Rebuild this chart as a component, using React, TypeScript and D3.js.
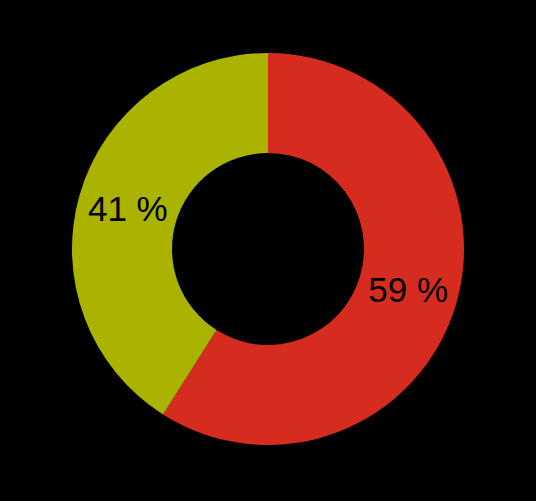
import React, { useEffect } from "react";
import * as d3 from "d3";

const categories = ["B", "A"];
const values = [59, 41];
const labels = ["59 %", "41 %"];
const colors = ["#d62b1f", "#a9b300"];

export default function App() {
  useEffect(() => {
    document.body.style.margin = "0";
    document.body.style.background = "#000";
  }, []);

  const W = 536;
  const H = 501;
  const cx = 268;
  const cy = 249;
  const outer = 196;
  const inner = 96;

  const pie = d3.pie<number>().sort(null).value((d) => d);
  const arcs = pie(values);
  const arc = d3.arc<d3.PieArcDatum<number>>().innerRadius(inner).outerRadius(outer);

  return (
    <svg width={W} height={H} style={{ position: "absolute", left: 0, top: 0, display: "block" }}>
      <rect x={0} y={0} width={W} height={H} fill="#000" />
      <g transform={`translate(${cx},${cy})`}>
        {arcs.map((a, i) => (
          <path key={categories[i]} d={arc(a) || ""} fill={colors[i]} />
        ))}
        {arcs.map((a, i) => {
          const [x, y] = arc.centroid(a);
          return (
            <text
              key={"t" + categories[i]}
              x={x}
              y={y}
              dy="0.36em"
              textAnchor="middle"
              fontFamily="'Liberation Sans', Arial, sans-serif"
              fontSize={35}
              fill="#000"
            >
              {labels[i]}
            </text>
          );
        })}
      </g>
    </svg>
  );
}
